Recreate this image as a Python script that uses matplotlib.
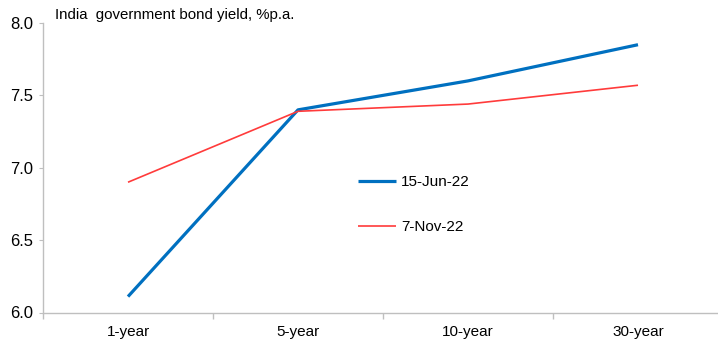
import numpy as np
from matplotlib import pyplot as plt

plt.rcParams['font.family'] = ['Liberation Sans', 'DejaVu Sans']

tenors = ['1-year', '5-year', '10-year', '30-year']
jun22 = [6.11, 7.40, 7.60, 7.85]
nov22 = [6.90, 7.39, 7.44, 7.57]
yticks = [6.0, 6.5, 7.0, 7.5, 8.0]

fig = plt.figure(figsize=(7.18, 3.41), dpi=100)
# axes spans a bit past the right edge, like the original
ax = fig.add_axes([43/718, 28.5/341, 680/718, 289.5/341])

x = np.arange(len(tenors))
ax.plot(x, jun22, color='#0070C0', lw=2.3, label='15-Jun-22', solid_capstyle='butt')
ax.plot(x, nov22, color='#FF3B3B', lw=1.2, label='7-Nov-22', solid_capstyle='butt')

ax.set_xlim(-0.5, 3.5)
ax.set_ylim(6.0, 8.0)
ax.set_yticks(yticks)
ax.set_yticklabels(['%.1f' % v for v in yticks], fontsize=12)
ax.set_xticks(x)
ax.set_xticklabels(tenors, fontsize=11)
ax.set_xticks(np.arange(-0.5, 3.6, 1), minor=True)
ax.tick_params(axis='x', which='major', length=0, pad=9)
ax.tick_params(axis='x', which='minor', length=4, color='#bfbfbf', width=1)
ax.tick_params(axis='y', length=3, color='#bfbfbf', pad=4)

for s in ['top', 'right']:
    ax.spines[s].set_visible(False)
for s in ['left', 'bottom']:
    ax.spines[s].set_color('#bfbfbf')
    ax.spines[s].set_linewidth(1)

fig.text(55/718, 1 - 15/341, 'India  government bond yield, %p.a.', fontsize=10.8, va='center', ha='left')

ax.legend(loc='upper left', bbox_to_anchor=(358/718, 1 - 175/341), bbox_transform=fig.transFigure,
          frameon=False, fontsize=11, handlelength=2.5, handletextpad=0.3, labelspacing=2.05,
          borderpad=0, borderaxespad=0)

fig.savefig('out.png', dpi=100)
